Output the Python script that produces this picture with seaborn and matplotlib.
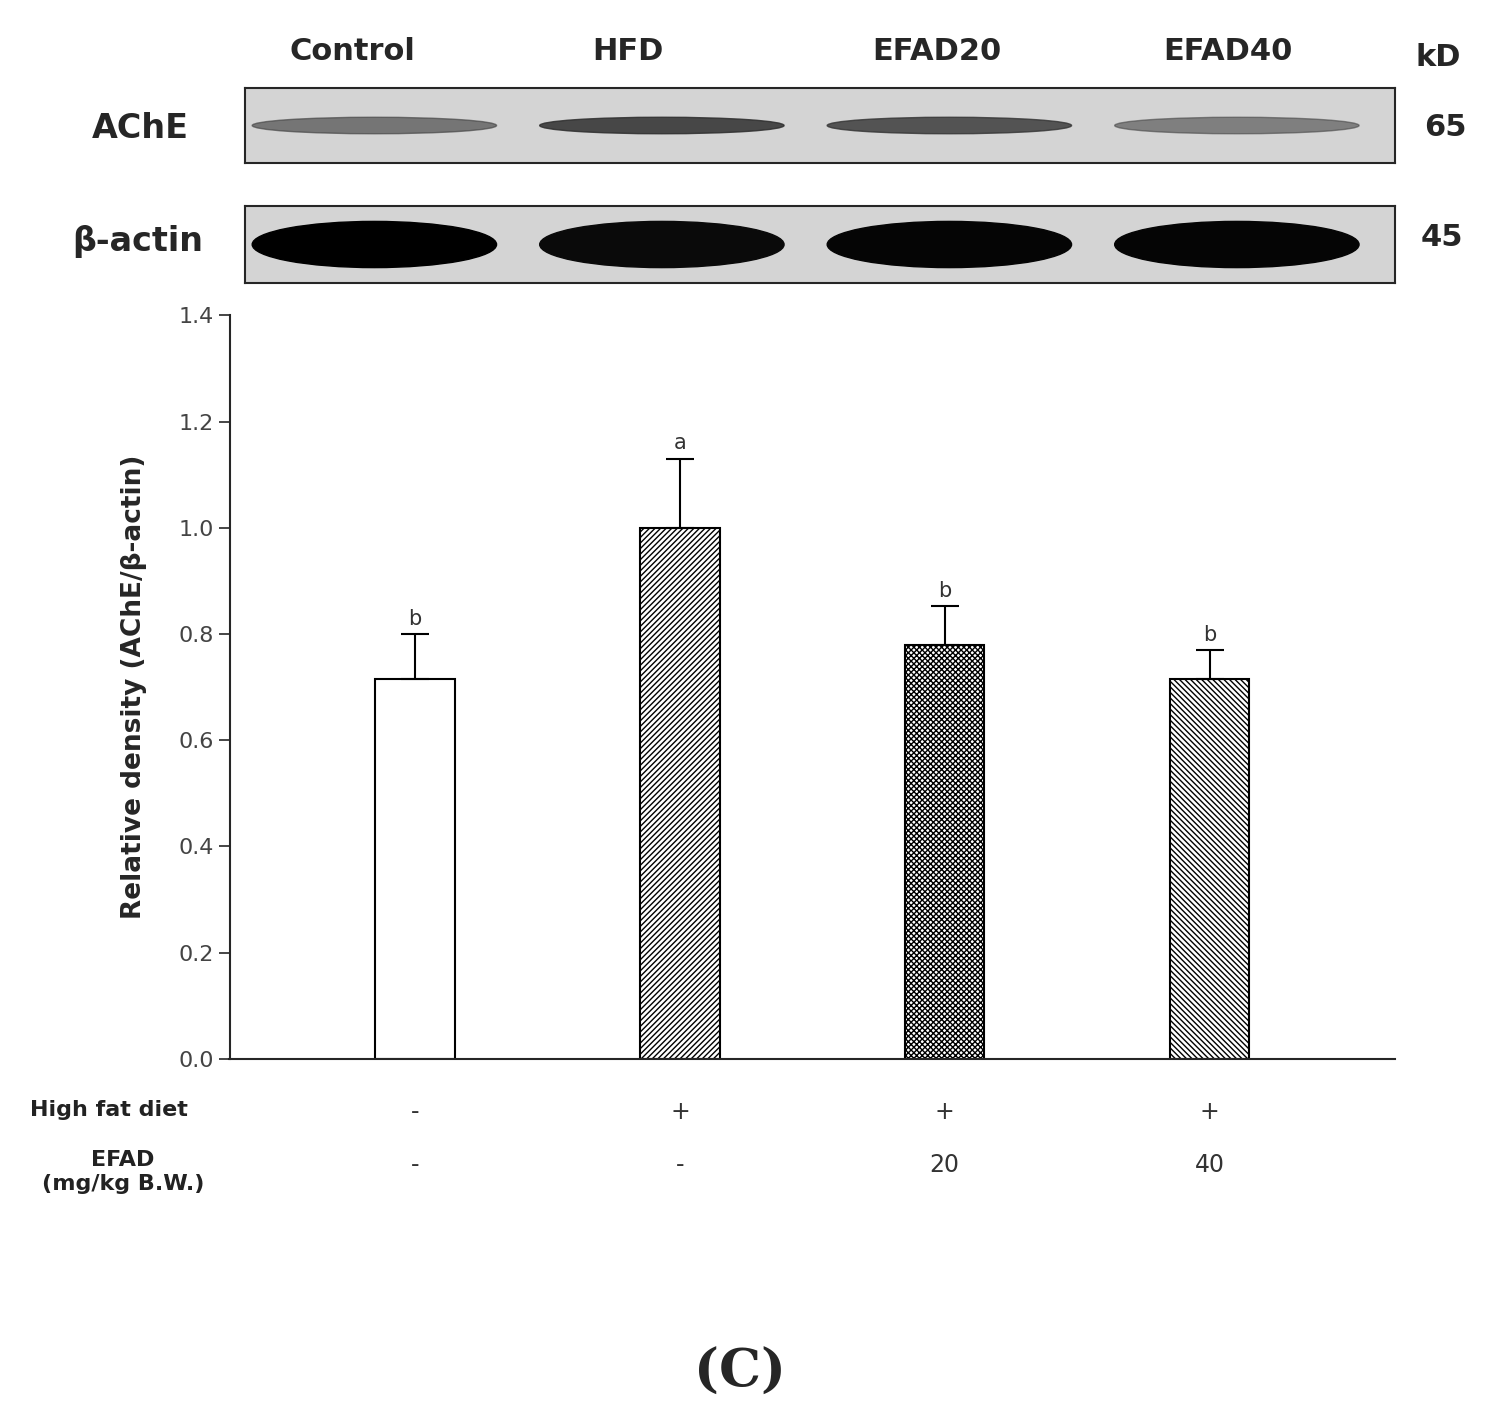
import matplotlib
matplotlib.use("Agg")
import matplotlib.pyplot as plt
from matplotlib.patches import Ellipse
import seaborn as sns
import numpy as np

groups = ["Control", "HFD", "EFAD20", "EFAD40"]
density = [0.715, 1.0, 0.78, 0.715]
sem = [0.085, 0.13, 0.072, 0.055]
letters = ["b", "a", "b", "b"]
hatches = ["", "//////", "xxxxxx", "\\\\\\\\\\\\"]
hfd_row = ["-", "+", "+", "+"]
efad_row = ["-", "-", "20", "40"]
# blot band darkness per lane (visual only)
ache_bands = [0.35, 0.55, 0.5, 0.3]
actin_bands = [1.0, 0.9, 0.95, 0.95]

sns.set_style("ticks")
plt.rcParams["font.family"] = ["DejaVu Sans"]
fig = plt.figure(figsize=(15, 14.27), dpi=100)

# ---- bar chart ----
ax = fig.add_axes([0.153, 0.258, 0.777, 0.521])
sns.barplot(x=groups, y=density, color="white", edgecolor="black",
            linewidth=1.5, width=0.3, ax=ax)
for p, h in zip(ax.patches, hatches):
    p.set_hatch(h)
    p.set_facecolor("white")
ax.errorbar(range(4), density, yerr=[[0] * 4, sem], fmt="none",
            ecolor="black", elinewidth=1.5, capsize=10, capthick=1.5)
for i, (v, e, l) in enumerate(zip(density, sem, letters)):
    ax.text(i, v + e + 0.01, l, ha="center", va="bottom", fontsize=15, color="#333")
ax.set_xlim(-0.7, 3.7)
ax.set_ylim(0, 1.4)
ax.set_yticks(np.arange(0, 1.41, 0.2))
ax.set_yticklabels([f"{t:.1f}" for t in np.arange(0, 1.41, 0.2)], fontsize=16, color="#444")
ax.tick_params(axis="y", direction="out", length=8, width=1.2)
ax.set_xticks([])
ax.set_xlabel("")
ax.set_ylabel("Relative density (AChE/β-actin)", fontsize=19, fontweight="bold", labelpad=22)
sns.despine(ax=ax)
for s in ["left", "bottom"]:
    ax.spines[s].set_linewidth(1.5)

# treatment rows
xfig = lambda i: (230 + (i + 0.7) * 264.7) / 1500
fig.text(30 / 1500, 1 - 1110 / 1427, "High fat diet", ha="left", va="center", fontsize=16, fontweight="bold", color="#222")
fig.text(123 / 1500, 1 - 1172 / 1427, "EFAD\n(mg/kg B.W.)", ha="center", va="center", fontsize=16, fontweight="bold", color="#222", linespacing=1.2)
for i in range(4):
    fig.text(xfig(i), 1 - 1112 / 1427, hfd_row[i], ha="center", va="center", fontsize=17, color="#333")
    fig.text(xfig(i), 1 - 1165 / 1427, efad_row[i], ha="center", va="center", fontsize=17, color="#333")

# ---- blots ----
def blot(top, bottom, bands, height):
    bax = fig.add_axes([245 / 1500, 1 - bottom / 1427, 1150 / 1500, (bottom - top) / 1427])
    bax.set_xlim(0, 4)
    bax.set_ylim(0, 1)
    bax.set_facecolor("#d4d4d4")
    for i, d in enumerate(bands):
        g = 1 - d
        bax.add_patch(Ellipse((i + 0.45, 0.5), 0.85, height, color=(g * 0.4,) * 3, alpha=min(1, d + 0.3)))
    bax.set_xticks([])
    bax.set_yticks([])
    for s in bax.spines.values():
        s.set_linewidth(1.5)
    return bax

blot(88, 163, ache_bands, 0.22)
blot(206, 283, actin_bands, 0.6)

lane_x = [352, 628, 937, 1228]
for x, g in zip(lane_x, groups):
    fig.text(x / 1500, 1 - 52 / 1427, g, ha="center", va="center", fontsize=22, fontweight="bold")
fig.text(1438 / 1500, 1 - 57 / 1427, "kD", ha="center", va="center", fontsize=22, fontweight="bold")
fig.text(140 / 1500, 1 - 128 / 1427, "AChE", ha="center", va="center", fontsize=24, fontweight="bold")
fig.text(138 / 1500, 1 - 242 / 1427, "β-actin", ha="center", va="center", fontsize=24, fontweight="bold")
fig.text(1445 / 1500, 1 - 128 / 1427, "65", ha="center", va="center", fontsize=22, fontweight="bold")
fig.text(1442 / 1500, 1 - 238 / 1427, "45", ha="center", va="center", fontsize=22, fontweight="bold")

fig.text(740 / 1500, 1 - 1372 / 1427, "(C)", ha="center", va="center", fontsize=38,
         fontweight="bold", family="DejaVu Serif")

fig.savefig("out.png", dpi=100)
